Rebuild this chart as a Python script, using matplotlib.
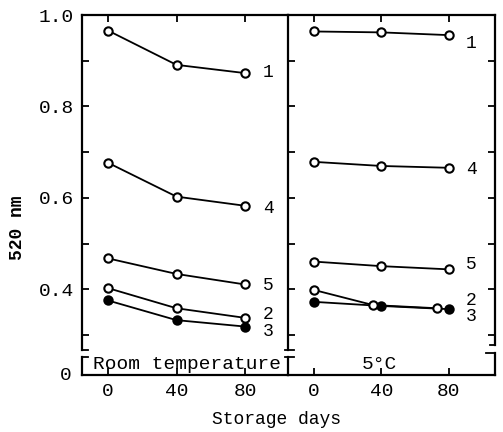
import numpy as np
import matplotlib.pyplot as plt

plt.rcParams['font.family'] = ['Liberation Mono', 'DejaVu Sans Mono']

days = [0, 40, 80]

# room temperature
room_1 = [0.966, 0.891, 0.873]
room_4 = [0.677, 0.603, 0.583]
room_5 = [0.468, 0.434, 0.411]
room_2 = [0.403, 0.359, 0.338]
room_3 = [0.376, 0.333, 0.319]

# 5 C
cold_1 = [0.964, 0.962, 0.956]
cold_4 = [0.679, 0.670, 0.666]
cold_5 = [0.461, 0.451, 0.444]
cold_2_days = [0, 35, 73]
cold_2 = [0.399, 0.366, 0.359]
cold_3 = [0.373, 0.364, 0.357]

room_labels = {'1': 0.875, '4': 0.578, '5': 0.408, '2': 0.346, '3': 0.309}
cold_labels = {'1': 0.937, '4': 0.663, '5': 0.454, '2': 0.377, '3': 0.340}

W, H = 503, 432
fig = plt.figure(figsize=(W / 100, H / 100), dpi=100)
ax1 = fig.add_axes([82 / W, 57 / H, 206 / W, 360 / H])
ax2 = fig.add_axes([288 / W, 57 / H, 207 / W, 360 / H])

ymin = 0.2131
ax1.set_xlim(-15.2, 105.1)
ax2.set_xlim(-15.4, 107.3)
lw = 1.6

def draw(ax, xs, ys, filled=False):
    ax.plot(xs, ys, color='k', lw=1.3, marker='o', ms=6,
            mfc='k' if filled else 'white', mec='k', mew=1.5, zorder=3)

for ax in (ax1, ax2):
    ax.set_ylim(ymin, 1.0)
    for s in ax.spines.values():
        s.set_linewidth(lw)
    ax.set_xticks(days)
    ax.set_yticks([0.3, 0.4, 0.5, 0.6, 0.7, 0.8, 0.9, 1.0])
    ax.tick_params(direction='in', top=True, length=5, width=1.3,
                   labelsize=14, pad=6)

draw(ax1, days, room_1)
draw(ax1, days, room_4)
draw(ax1, days, room_5)
draw(ax1, days, room_2)
draw(ax1, days, room_3, filled=True)

draw(ax2, days, cold_1)
draw(ax2, days, cold_4)
draw(ax2, days, cold_5)
draw(ax2, days, cold_3, filled=True)
draw(ax2, cold_2_days, cold_2)

for k, v in room_labels.items():
    ax1.text(90.5, v, k, fontsize=13, va='center', ha='left')
for k, v in cold_labels.items():
    ax2.text(90, v, k, fontsize=13, va='center', ha='left')

ax1.set_yticklabels(['', '0.4', '', '0.6', '', '0.8', '', '1.0'])
ax2.tick_params(labelleft=False, right=True)
ax1.spines['right'].set_visible(False)

# broken vertical lines behind the panel titles
y_top, y_bot = 0.2678, 0.2525
ax1.spines['left'].set_bounds(y_top, 1.0)
ax2.spines['left'].set_bounds(y_top, 1.0)
ax2.spines['right'].set_bounds(0.279, 1.0)

def cap(ax, xa, y, dx):
    t = ax.get_yaxis_transform()
    ax.plot([xa, xa + dx], [y, y], color='k', lw=1.3, transform=t, clip_on=False)

cap(ax1, 0, y_top, 0.03)
cap(ax1, 0, y_bot, 0.03)
ax1.plot([0, 0], [ymin, y_bot], color='k', lw=lw, transform=ax1.get_yaxis_transform(), clip_on=False)
cap(ax2, -0.015, y_top, 0.045)
cap(ax2, -0.015, y_bot, 0.045)
ax2.plot([0, 0], [ymin, y_bot], color='k', lw=lw, transform=ax2.get_yaxis_transform(), clip_on=False)
cap(ax2, 1, 0.279, -0.025)
ax2.plot([1, 1], [ymin, 0.261], color='k', lw=lw, transform=ax2.get_yaxis_transform(), clip_on=False)
cap(ax2, 1, 0.261, -0.045)

ax1.text(0.51, 0.237, 'Room temperature', fontsize=14, ha='center', va='center',
         transform=ax1.get_yaxis_transform())
ax2.text(0.44, 0.237, '5°C', fontsize=14, ha='center', va='center',
         transform=ax2.get_yaxis_transform())
ax1.text(-0.05, ymin, '0', fontsize=14, ha='right', va='center',
         transform=ax1.get_yaxis_transform())

fig.text(17 / W, 1 - 228 / H, '520 nm', rotation=90, fontsize=13,
         fontweight='bold', ha='center', va='center')
fig.text(277 / W, 1 - 420 / H, 'Storage days', fontsize=13, ha='center', va='center')

fig.savefig('out.png', dpi=100)
